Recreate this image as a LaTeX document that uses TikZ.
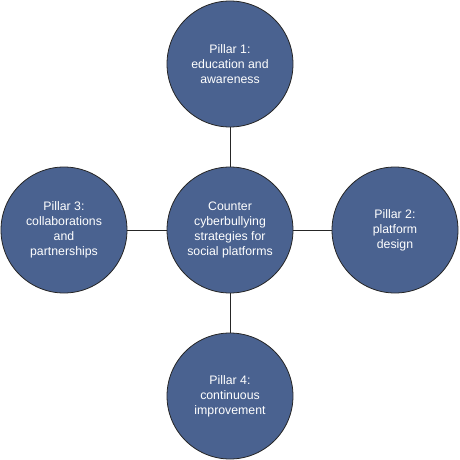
\documentclass[tikz,border=0pt]{standalone}
\usepackage{fontspec}
\setmainfont{Liberation Sans}
\definecolor{pillar}{HTML}{4A6290}
\begin{document}
\begin{tikzpicture}[x=1pt,y=-1pt,
  pill/.style={circle,draw=black!85,line width=0.8pt,fill=pillar,minimum size=126pt,inner sep=0pt,
    text=white,align=center,font=\fontsize{12.3}{15}\selectfont},
  link/.style={draw=black!85,line width=0.8pt}]
\useasboundingbox (0,0) rectangle (459,460);
\node[pill] (c) at (230,230) {Counter\\cyberbullying\\strategies for\\social platforms};
\node[pill] (p1) at (230,64) {Pillar 1:\\education and\\awareness};
\node[pill] (p2) at (395,230) {Pillar 2:\\platform\\design};
\node[pill] (p3) at (64,230) {Pillar 3:\\collaborations\\and\\partnerships};
\node[pill] (p4) at (230,396) {Pillar 4:\\continuous\\improvement};
\draw[link] (c) -- (p1);
\draw[link] (c) -- (p2);
\draw[link] (c) -- (p3);
\draw[link] (c) -- (p4);
\end{tikzpicture}
\end{document}
